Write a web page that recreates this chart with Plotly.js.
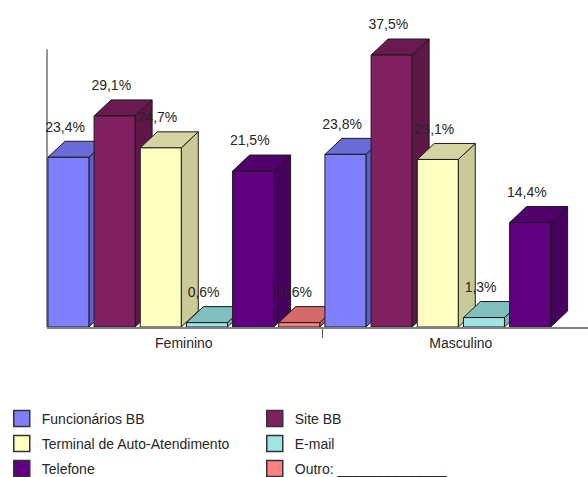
<!DOCTYPE html>
<html>
<head>
<meta charset="utf-8">
<script src="https://cdn.plot.ly/plotly-3.0.1.min.js"></script>
<style>
  html, body { margin: 0; padding: 0; background: #ffffff; }
  #chart { width: 588px; height: 477px; }
</style>
</head>
<body>
<div id="chart"></div>
<script>
// Canais de atendimento por sexo (%)
const categories = ['Feminino', 'Masculino'];
const seriesNames = ['Funcionários BB', 'Site BB', 'Terminal de Auto-Atendimento', 'E-mail', 'Telefone', 'Outro: ______________'];
const funcionarios = [23.4, 23.8];
const siteBB = [29.1, 37.5];
const terminal = [24.7, 23.1];
const email = [0.6, 1.3];
const telefone = [21.5, 14.4];
const outro = [0.6, null];

const seriesValues = [funcionarios, siteBB, terminal, email, telefone, outro];

// face colours: front, top, side
const frontColors = ['#8080FF', '#802060', '#FFFFC0', '#A0E4E4', '#600080', '#FF8080'];
const topColors   = ['#6B6BD8', '#6A1A50', '#D4D4A2', '#82BFBF', '#50006B', '#D46A6A'];
const sideColors  = ['#5E5ECC', '#5E1748', '#CACA98', '#76B2B2', '#46005E', '#C65F5F'];

// 3D box geometry in axis units
const slot = 1 / 6;        // slot per series inside a category
const halfW = 0.074;       // half width of a bar front
const depthX = 0.0614;     // horizontal depth offset
const depthY = 2.21;       // vertical depth offset
const labelLift = 0.85;    // gap between box top and its label
const edge = '#1a1a1a';

function centerOf(g, i) { return g + (i - 2.5) * slot; }
function fmt(v) { return v.toFixed(1).replace('.', ',') + '%'; }

const traces = [];

function poly(xs, ys, fill) {
  return {
    type: 'scatter', mode: 'lines', x: xs.concat([xs[0]]), y: ys.concat([ys[0]]),
    fill: 'toself', fillcolor: fill, line: { color: edge, width: 1 },
    hoverinfo: 'skip', showlegend: false
  };
}

// boxes drawn left to right so each one covers the depth of its neighbour
categories.forEach((cat, g) => {
  seriesValues.forEach((vals, i) => {
    const v = vals[g];
    if (v === null) return;
    const c = centerOf(g, i);
    const xl = c - halfW, xr = c + halfW;
    traces.push(poly([xr, xr + depthX, xr + depthX, xr], [0, depthY, v + depthY, v], sideColors[i]));
    traces.push(poly([xl, xr, xr + depthX, xl + depthX], [v, v, v + depthY, v + depthY], topColors[i]));
    traces.push(poly([xl, xr, xr, xl], [0, 0, v, v], frontColors[i]));
  });
});

// value labels, drawn over the boxes
const lx = [], ly = [], lt = [];
seriesValues.forEach((vals, i) => {
  vals.forEach((v, g) => {
    if (v === null) return;
    lx.push(centerOf(g, i) - 0.012);
    ly.push(v + depthY + labelLift);
    lt.push(fmt(v));
  });
});
traces.push({
  type: 'scatter', mode: 'text', x: lx, y: ly, text: lt,
  textposition: 'top center', cliponaxis: false,
  textfont: { family: 'Liberation Sans, Arial, sans-serif', size: 14, color: '#262626' },
  hoverinfo: 'skip', showlegend: false
});

// legend entries, two per row
const legendIds = ['legend', 'legend', 'legend2', 'legend2', 'legend3', 'legend3'];
seriesNames.forEach((name, i) => {
  traces.push({
    type: 'scatter', mode: 'markers', x: [null], y: [null], name: name,
    legend: legendIds[i],
    marker: { symbol: 'square', size: 17, color: frontColors[i], line: { color: '#333333', width: 1.5 } },
    hoverinfo: 'skip', showlegend: true
  });
});

function legendRow(topPx) {
  return {
    orientation: 'h', xref: 'container', yref: 'container',
    x: 0.003, y: 1 - topPx / 477, xanchor: 'left', yanchor: 'top',
    entrywidth: 208, entrywidthmode: 'pixels',
    font: { family: 'Liberation Sans, Arial, sans-serif', size: 14, color: '#262626' },
    bgcolor: 'rgba(0,0,0,0)', traceorder: 'normal'
  };
}

const layout = {
  width: 588, height: 477,
  margin: { l: 47, r: 0, t: 5, b: 150 },
  paper_bgcolor: '#ffffff', plot_bgcolor: '#ffffff',
  font: { family: 'Liberation Sans, Arial, sans-serif', size: 14, color: '#262626' },
  showlegend: true,
  xaxis: {
    range: [-0.494, 1.459], fixedrange: true,
    tickmode: 'array', tickvals: [0, 1], ticktext: categories,
    ticks: '', showgrid: false, zeroline: false,
    showline: true, linecolor: '#808080', linewidth: 1.5,
    ticklabelstandoff: 3,
    minor: { tickmode: 'array', tickvals: [0.5], ticks: 'outside', ticklen: 9, tickcolor: '#555555', tickwidth: 1.5, showgrid: false },
    tickfont: { size: 14, color: '#262626' }
  },
  yaxis: {
    range: [0, 44.4], fixedrange: true,
    showticklabels: false, ticks: '', showgrid: false, zeroline: false, showline: false
  },
  shapes: [{
    type: 'line', xref: 'paper', yref: 'y', x0: 0, x1: 0, y0: 0, y1: 38.3,
    line: { color: '#707070', width: 1.5 }, layer: 'below'
  }],
  legend: legendRow(403),
  legend2: legendRow(428),
  legend3: legendRow(453)
};

Plotly.newPlot('chart', traces, layout, { displayModeBar: false, staticPlot: true });
</script>
</body>
</html>
